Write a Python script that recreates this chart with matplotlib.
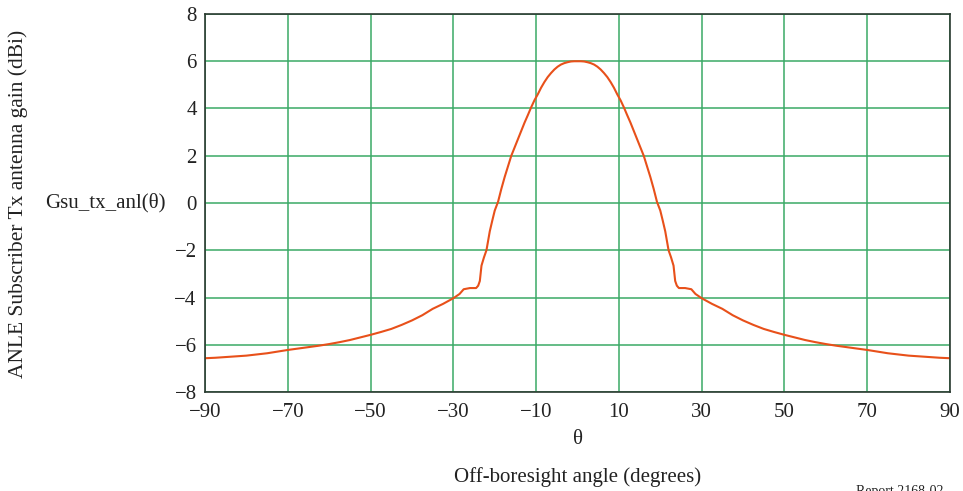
import matplotlib
matplotlib.use("Agg")
import matplotlib.pyplot as plt

# off-boresight angle (degrees) and gain (dBi)
theta_neg = [-90, -87.5, -85, -82.5, -80, -77.5, -75, -72.5, -70, -67.5, -65, -62.5,
             -60, -57.5, -55, -52.5, -50, -47.5, -45, -42.5, -40, -37.5, -35, -32.5,
             -30, -28.5, -27.5, -26, -24.5, -24, -23.6, -23.2, -22.6, -22.0, -21.2,
             -20.6, -20.0, -19.2, -18.4, -17.6, -16.8, -16.0, -15.2, -14.4, -13.6,
             -12.8, -12.0, -11.2, -10.4, -9.6, -8.8, -8.0, -7.2, -6.4, -5.6, -4.8,
             -4.0, -3.2, -2.4, -1.6, -0.8]
gain_neg = [-6.57, -6.55, -6.52, -6.49, -6.46, -6.41, -6.36, -6.29, -6.22, -6.16, -6.10, -6.04,
            -5.97, -5.89, -5.80, -5.69, -5.58, -5.46, -5.33, -5.16, -4.97, -4.75, -4.48, -4.27,
            -4.03, -3.85, -3.65, -3.60, -3.60, -3.50, -3.30, -2.65, -2.30, -2.00, -1.20,
            -0.75, -0.32, 0.05, 0.60, 1.10, 1.55, 2.00, 2.35, 2.70, 3.05,
            3.40, 3.72, 4.05, 4.35, 4.60, 4.88, 5.12, 5.33, 5.50, 5.65, 5.77,
            5.86, 5.92, 5.96, 5.99, 6.00]
theta_peak = [0.0]
gain_peak = [6.0]
theta_pos = [0.8, 1.6, 2.4, 3.2, 4.0, 4.8, 5.6, 6.4, 7.2, 8.0, 8.8, 9.6, 10.4, 11.2,
             12.0, 12.8, 13.6, 14.4, 15.2, 16.0, 16.8, 17.6, 18.4, 19.2, 20.0, 20.6,
             21.2, 22.0, 22.6, 23.2, 23.6, 24, 24.5, 26, 27.5, 28.5, 30, 32.5, 35,
             37.5, 40, 42.5, 45, 47.5, 50, 52.5, 55, 57.5, 60, 62.5, 65, 67.5, 70,
             72.5, 75, 77.5, 80, 82.5, 85, 87.5, 90]
gain_pos = [6.00, 5.99, 5.96, 5.92, 5.86, 5.77, 5.65, 5.50, 5.33, 5.12, 4.88, 4.60, 4.35, 4.05,
            3.72, 3.40, 3.05, 2.70, 2.35, 2.00, 1.55, 1.10, 0.60, 0.05, -0.32, -0.75,
            -1.20, -2.00, -2.30, -2.65, -3.30, -3.50, -3.60, -3.60, -3.65, -3.85, -4.03, -4.27, -4.48,
            -4.75, -4.97, -5.16, -5.33, -5.46, -5.58, -5.69, -5.80, -5.89, -5.97, -6.04, -6.10, -6.16, -6.22,
            -6.29, -6.36, -6.41, -6.46, -6.49, -6.52, -6.55, -6.57]

theta = theta_neg + theta_peak + theta_pos
gain = gain_neg + gain_peak + gain_pos

x_ticks = [-90, -70, -50, -30, -10, 10, 30, 50, 70, 90]
y_ticks = [-8, -6, -4, -2, 0, 2, 4, 6, 8]

plt.rcParams["font.family"] = ["Liberation Serif", "DejaVu Serif"]

fig = plt.figure(figsize=(9.63, 4.91), dpi=100)
ax = fig.add_axes([0.2129, 0.2016, 0.7736, 0.7699])

ax.plot(theta, gain, color="#e8501a", lw=1.5)

ax.set_xlim(-90, 90)
ax.set_ylim(-8, 8)
ax.set_xticks(x_ticks)
ax.set_yticks(y_ticks)
ax.grid(True, color="#3aaa66", lw=1.1)
ax.tick_params(length=0, labelsize=15, colors="#222222")
ax.tick_params(axis="x", pad=8)
ax.tick_params(axis="y", pad=6)
for s in ax.spines.values():
    s.set_color("#2a3a30")
    s.set_linewidth(1.2)

fig.text(0.019, 0.585, "ANLE Subscriber Tx antenna gain (dBi)", rotation=90,
         ha="center", va="center", fontsize=15.5, color="#222222")
fig.text(0.109, 0.587, "Gsu_tx_anl(\u03b8)", ha="center", va="center",
         fontsize=15, color="#222222")
fig.text(0.600, 0.104, "\u03b8", ha="center", va="center", fontsize=15, color="#222222")
fig.text(0.600, 0.029, "Off-boresight angle (degrees)", ha="center", va="center",
         fontsize=15, color="#222222")
fig.text(0.889, 0.012, "Report 2168-02", ha="left", va="top", fontsize=10, color="#222222")

fig.savefig("out.png", dpi=100)
